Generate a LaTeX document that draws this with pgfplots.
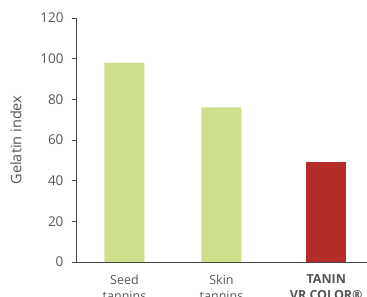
\documentclass[border=0pt]{standalone}
\usepackage{pgfplots}
\pgfplotsset{compat=1.18}
\usepackage{fontspec}
\setmainfont{Open Sans}
\definecolor{bargreen}{RGB}{205,223,138}
\definecolor{barred}{RGB}{181,45,40}
\definecolor{txtgray}{RGB}{85,85,85}
\definecolor{axgray}{RGB}{70,70,70}
\begin{document}
\begin{tikzpicture}[x=1pt,y=1pt]
\path[use as bounding box] (-76,-35) rectangle (291,262);
\begin{axis}[
  at={(0,0)}, anchor=south west,
  scale only axis, width=291pt, height=244pt,
  xmin=-0.5, xmax=2.5, ymin=0, ymax=120,
  axis x line*=bottom, axis y line*=left,
  axis line style={axgray, line width=0.8pt, -},
  ytick={0,20,...,120},
  tick align=outside,
  major tick length=4pt,
  tick style={axgray, line width=0.8pt},
  xtick={0,1,2.08},
  xticklabels={Seed\\tannins, Skin\\tannins, \textbf{TANIN}\\\textbf{VR COLOR®}},
  x tick style={draw=none},
  xticklabel style={align=center, font=\fontsize{12.5}{16}\selectfont, text=txtgray, yshift=-5pt},
  extra x ticks={0.5,1.5},
  extra x tick labels={},
  extra x tick style={tick style={axgray, line width=0.8pt, draw=axgray}, major tick length=4pt},
  yticklabel style={font=\fontsize{13.5}{15}\selectfont, text=txtgray, xshift=-5pt},
  /pgf/number format/assume math mode=true,
  ylabel={Gelatin index},
  every axis y label/.style={at={(ticklabel cs:0.5)}, rotate=90, anchor=south, yshift=12pt, font=\fontsize{14.5}{17}\selectfont, text=txtgray},
  ybar, bar width=40pt, bar shift=0pt,
  clip=false,
]
\addplot[fill=bargreen, draw=none] coordinates {(0,98) (1,76)};
\addplot[fill=barred, draw=none] coordinates {(2.08,49)};
\end{axis}
\end{tikzpicture}
\end{document}
